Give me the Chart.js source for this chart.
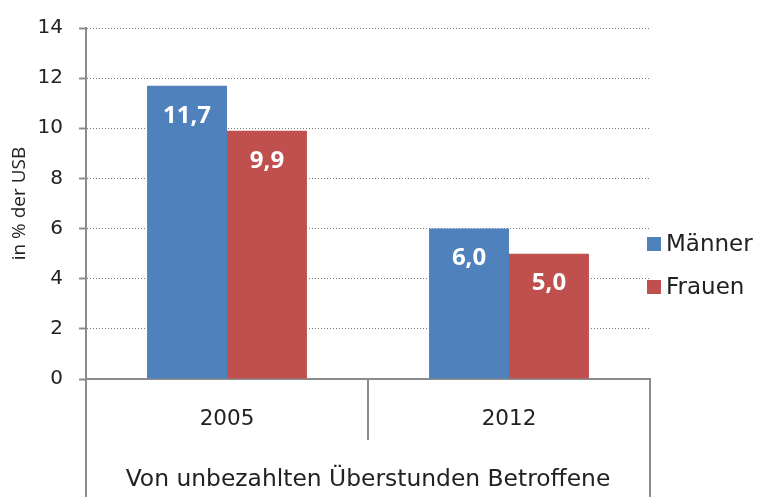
<!DOCTYPE html>
<html>
<head>
<meta charset="utf-8">
<script src="https://cdn.jsdelivr.net/npm/chart.js@4.4.1/dist/chart.umd.min.js"></script>
<style>
  html, body { margin: 0; padding: 0; background: #fff; }
  #wrap { width: 759px; height: 497px; position: relative; }
</style>
</head>
<body>
<div id="wrap"><canvas id="c" width="759" height="497"></canvas></div>
<script>
const categories = ['2005', '2012'];
const seriesNames = ['Männer', 'Frauen'];
const maenner = [11.7, 6.0];
const frauen = [9.9, 5.0];
const yTicks = [0, 2, 4, 6, 8, 10, 12, 14];
const groupLabel = 'Von unbezahlten Überstunden Betroffene';
const yTitle = 'in % der USB';

const BLUE = '#4F81BD';
const RED = '#C0504D';
const AXIS = '#8c8c8c';
const TXT = '#222222';
const TICKFONT = 'DejaVu Sans';

const extrasPlugin = {
  id: 'extras',
  afterDatasetsDraw(chart) {
    const ctx = chart.ctx;
    ctx.save();
    ctx.fillStyle = '#ffffff';
    ctx.font = 'bold 24px "Open Sans"';
    ctx.textAlign = 'center';
    ctx.textBaseline = 'middle';
    chart.data.datasets.forEach((ds, di) => {
      const meta = chart.getDatasetMeta(di);
      meta.data.forEach((bar, i) => {
        const txt = ds.data[i].toFixed(1).replace('.', ',');
        ctx.fillText(txt, bar.x, bar.y + 30);
      });
    });
    ctx.restore();
  },
  afterDraw(chart) {
    const ctx = chart.ctx;
    const xs = chart.scales.x;
    const area = chart.chartArea;
    ctx.save();
    ctx.setLineDash([]);
    ctx.strokeStyle = AXIS;
    ctx.lineWidth = 2;
    ctx.beginPath();
    ctx.moveTo(area.left, area.bottom);
    ctx.lineTo(area.left, chart.height);
    ctx.moveTo(area.right, area.bottom);
    ctx.lineTo(area.right, chart.height);
    const sep = (xs.getPixelForValue(0) + xs.getPixelForValue(1)) / 2;
    ctx.moveTo(sep, area.bottom);
    ctx.lineTo(sep, area.bottom + 61);
    ctx.stroke();
    // legend
    ctx.font = '23px ' + TICKFONT;
    ctx.textBaseline = 'middle';
    ctx.textAlign = 'left';
    const lx = area.right - 3;
    const ly0 = 244;
    chart.data.datasets.forEach((ds, di) => {
      const cy = ly0 + di * 43;
      ctx.fillStyle = ds.backgroundColor;
      ctx.fillRect(lx, cy - 7, 14, 14);
      ctx.fillStyle = TXT;
      ctx.fillText(ds.label, lx + 19, cy + 1);
    });
    ctx.restore();
  }
};

new Chart(document.getElementById('c'), {
  type: 'bar',
  data: {
    labels: categories,
    datasets: [
      { label: seriesNames[0], data: maenner, backgroundColor: BLUE },
      { label: seriesNames[1], data: frauen, backgroundColor: RED }
    ]
  },
  options: {
    responsive: false,
    animation: false,
    devicePixelRatio: 1,
    layout: { padding: { top: 18, right: 109, left: 0, bottom: 0 } },
    datasets: { bar: { barPercentage: 1, categoryPercentage: 0.567 } },
    plugins: {
      legend: { display: false },
      tooltip: { enabled: false }
    },
    scales: {
      x: {
        offset: true,
        grid: { display: false, drawTicks: false },
        border: { display: true, color: AXIS, width: 2 },
        ticks: { color: TXT, font: { family: TICKFONT, size: 21.5 }, padding: 28, maxRotation: 0 },
        title: { display: true, text: groupLabel, color: TXT, font: { family: TICKFONT, size: 23.4 }, padding: { top: 0, bottom: 3 } },
        afterFit(s) { s.height = 118; }
      },
      y: {
        min: 0, max: 14,
        afterBuildTicks(s) { s.ticks = yTicks.map(v => ({ value: v })); },
        grid: {
          color: '#7a7a7a', lineWidth: 1,
          drawTicks: true, tickLength: 7, tickWidth: 2, tickColor: AXIS, tickBorderDash: []
        },
        border: { display: true, color: AXIS, width: 2, dash: [1, 2] },
        ticks: { color: TXT, font: { family: TICKFONT, size: 20 }, padding: 16 },
        title: { display: true, text: yTitle, color: TXT, font: { family: 'Open Sans', size: 19 }, padding: { top: 8, bottom: 0 } },
        afterFit(s) { s.width = 86; }
      }
    }
  },
  plugins: [extrasPlugin]
});
</script>
</body>
</html>
